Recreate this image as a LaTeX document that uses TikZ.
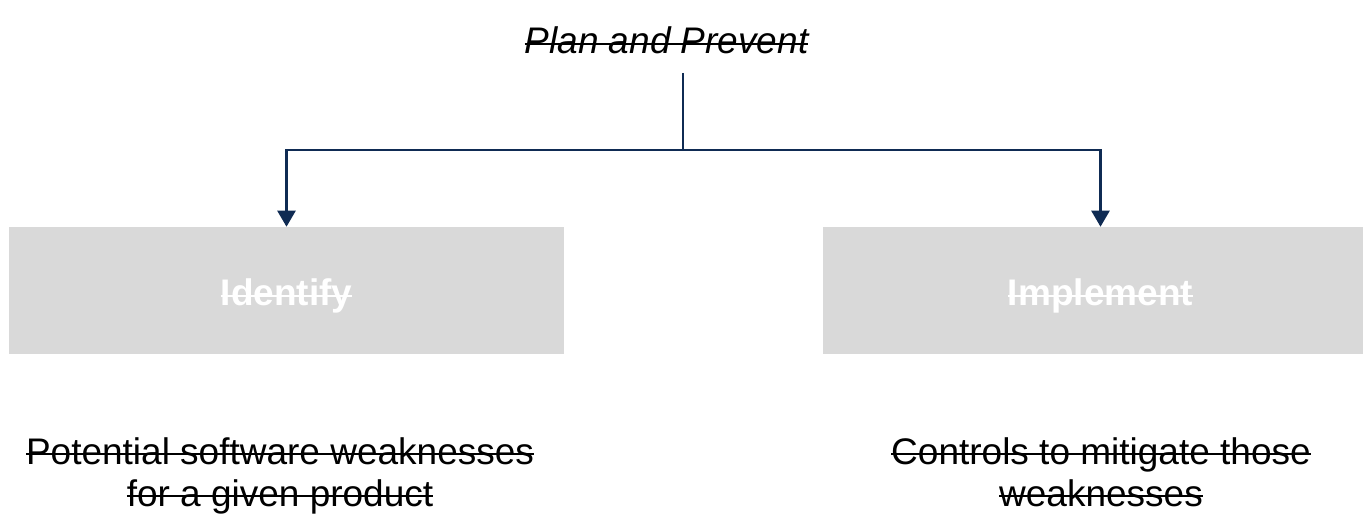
\documentclass[tikz,border=0pt]{standalone}
\usepackage{fontspec}
\setmainfont{Liberation Sans}
\newcommand\strk[1]{{\setbox0=\hbox{#1}\dimen0=\wd0 \rlap{\box0}\rule[0.47ex]{\dimen0}{1.5pt}}}
\usetikzlibrary{arrows.meta}
\definecolor{navy}{HTML}{0F2B53}
\definecolor{boxgray}{HTML}{D9D9D9}
\begin{document}
\begin{tikzpicture}[x=0.75pt,y=-0.75pt,
  bigfont/.style={font=\fontsize{27.75pt}{31.5pt}\selectfont},
  box/.style={fill=boxgray, draw=none, minimum width=416.25pt, minimum height=95.25pt,
    inner sep=0pt, text height=22.9pt, text depth=0pt, text=white,
    font=\fontsize{27.75pt}{31.5pt}\selectfont\bfseries},
  desc/.style={bigfont, align=center, inner sep=0pt, text=black},
  conn/.style={draw=navy, line width=1.8pt},
  tip/.style={-{Triangle[width=13.5pt,length=12pt]}}]
\useasboundingbox (0,0) rectangle (1363,517);
\clip (0,0) rectangle (1363,517);
\node[bigfont, anchor=base, inner sep=0pt] (title) at (666.5,54) {\itshape\strk{Plan and Prevent}};
\node[box] (ident) at (286.5,290.5) {\strk{Identify}};
\node[box] (impl) at (1100.5,290.5) {\strk{Implement}};
\node[desc, anchor=base] (d1) at (280,506) {\strk{Potential software weaknesses}\\\strk{for a given product}};
\node[desc, anchor=base] (d2) at (1101,506) {\strk{Controls to mitigate those}\\\strk{weaknesses}};
\coordinate (top) at (683,73);
\coordinate (split) at (683,150);
\draw[conn] (top) -- (split);
\draw[conn, tip] (split) -| (ident.north);
\draw[conn, tip] (split) -| (impl.north);
\end{tikzpicture}
\end{document}
